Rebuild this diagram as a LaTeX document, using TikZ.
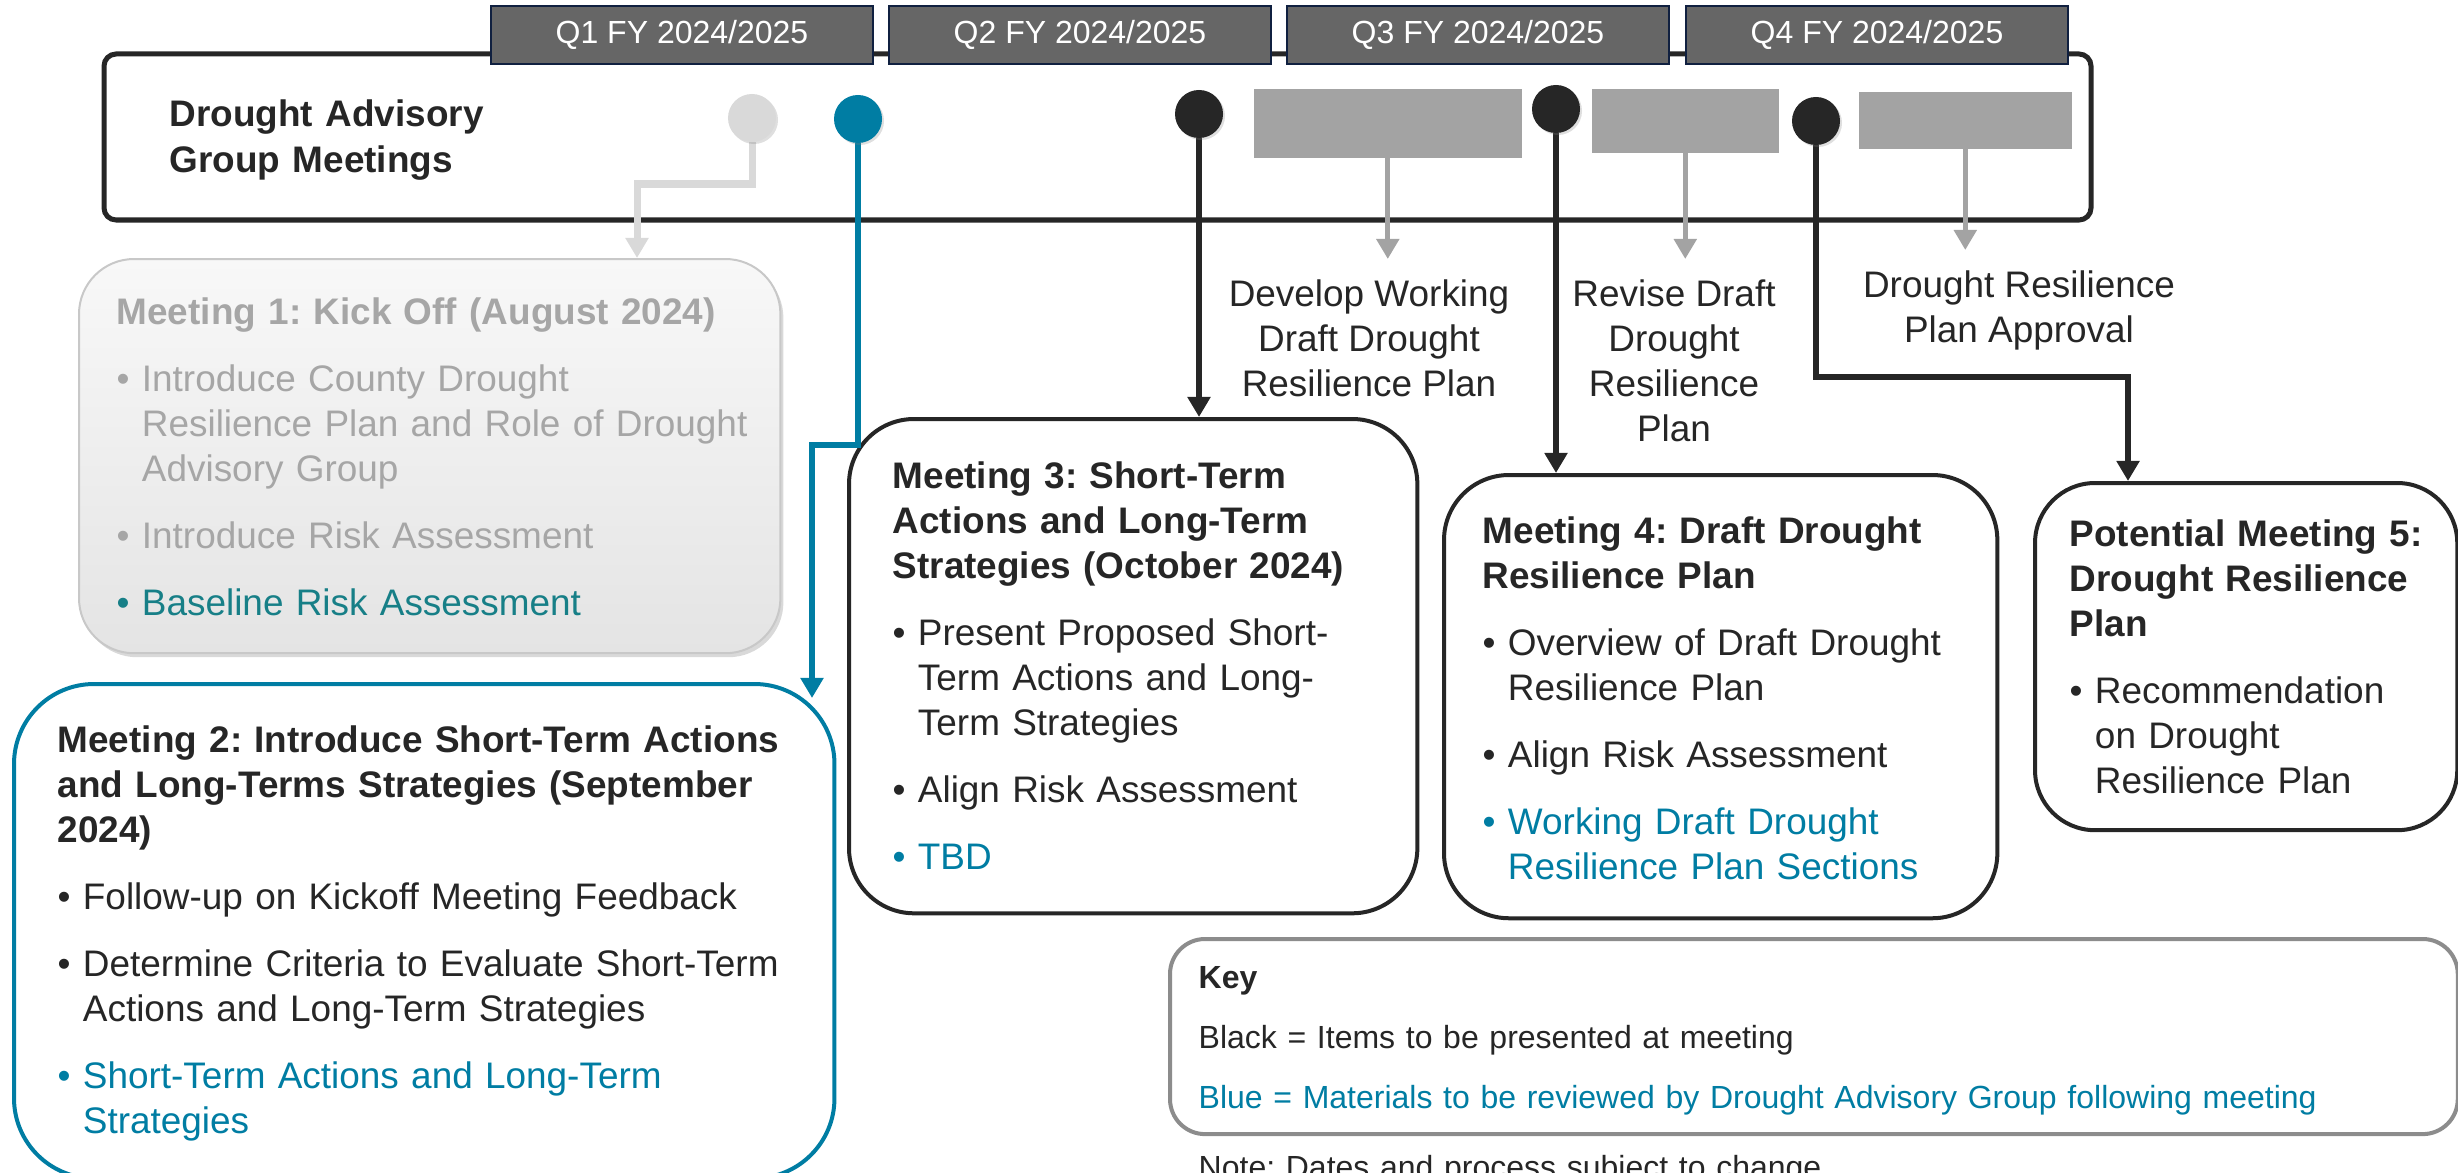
\documentclass[tikz,border=0pt]{standalone}
\usepackage{fontspec}
\setmainfont{Liberation Sans}
\usepackage{tikz}
\usetikzlibrary{arrows.meta,shapes,shadows}
\frenchspacing

\definecolor{dagblue}{RGB}{0,125,163}
\definecolor{pastteal}{RGB}{23,127,135}
\definecolor{pasttext}{RGB}{166,166,166}
\definecolor{pastline}{RGB}{200,200,200}
\definecolor{pasttop}{RGB}{248,248,248}
\definecolor{pastbottom}{RGB}{228,228,228}
\definecolor{textblack}{RGB}{38,38,38}
\definecolor{quarterfill}{RGB}{102,102,102}
\definecolor{quarterline}{RGB}{16,32,64}
\definecolor{holdergray}{RGB}{163,163,163}
\definecolor{lightdot}{RGB}{217,217,217}
\definecolor{keyline}{RGB}{140,140,140}

\newlength{\bulletwd}
\newcommand{\mitem}[2][.]{\par\vspace{.22cm}\settowidth{\bulletwd}{\textbullet\ }%
	\hangindent=\bulletwd\hangafter=1\noindent{\color{#1}\textbullet\ #2}\par}

\tikzset{>={Triangle[length=.2cm,width=.22cm]}}
\tikzstyle{quarter}=[draw=quarterline,line width=.02cm,fill=quarterfill,text=white,
minimum width=3.82cm,minimum height=.58cm,inner sep=0pt,font=\fontsize{9.1}{11}\selectfont]
\tikzstyle{meetdot}=[circle,minimum size=.48cm,inner sep=0pt,
drop shadow={shadow xshift=.02cm,shadow yshift=-.02cm,opacity=.25}]
\tikzstyle{holder}=[fill=holdergray,inner sep=0pt,anchor=north west]
\tikzstyle{meetbox}=[rectangle,rounded corners=.65cm,line width=.04cm,draw=textblack,
fill=white,inner sep=0pt,anchor=north west]
\tikzstyle{pastbox}=[rectangle,rounded corners=.55cm,line width=.02cm,draw=pastline,
top color=pasttop,bottom color=pastbottom,inner sep=0pt,anchor=north west,
drop shadow={shadow xshift=.03cm,shadow yshift=-.04cm,opacity=.3}]
\tikzstyle{meettext}=[text width=7.8cm,align=left,inner sep=0pt,anchor=base west]
\tikzstyle{steplabel}=[align=center,anchor=north,inner sep=.2cm]
\tikzstyle{arrow}=[->,line width=.06cm,draw=textblack]
\tikzstyle{bluearrow}=[->,line width=.06cm,draw=dagblue]
\tikzstyle{grayarrow}=[->,line width=.05cm,draw=holdergray]
\tikzstyle{grayelbow}=[->,line width=.07cm,draw=lightdot]

\begin{document}
\begin{tikzpicture}[x=.01cm, y=-.01cm, font=\fontsize{10.5}{12.8}\selectfont, text=textblack]
	\useasboundingbox (0,0) rectangle (2458,1173);

	%timeline frame
	\draw[line width=.05cm,draw=textblack,rounded corners=.12cm] (104,54) rectangle (2091,220);
	\node[quarter] (q1) at (682,35) {Q1 FY 2024/2025};
	\node[quarter] (q2) at (1080,35) {Q2 FY 2024/2025};
	\node[quarter] (q3) at (1478,35) {Q3 FY 2024/2025};
	\node[quarter] (q4) at (1877,35) {Q4 FY 2024/2025};

	\node[meettext,font=\fontsize{10.5}{12.8}\bfseries] (dag) at (169,127) {Drought Advisory\\Group Meetings};

	\node[holder,minimum width=2.68cm,minimum height=.69cm] (r1) at (1253,88) {};
	\node[holder,minimum width=1.87cm,minimum height=.64cm] (r2) at (1591,88) {};
	\node[holder,minimum width=2.13cm,minimum height=.57cm] (r3) at (1858,91) {};

	%meeting boxes
	\node[pastbox,minimum width=7.01cm,minimum height=3.94cm] (m1) at (78,258) {};
	\node[meetbox,draw=dagblue,rounded corners=.8cm,minimum width=8.2cm,minimum height=4.94cm] (m2) at (12,682) {};
	\node[meetbox,minimum width=5.68cm,minimum height=4.94cm] (m3) at (847,417) {};
	\node[meetbox,minimum width=5.53cm,minimum height=4.43cm] (m4) at (1442,473) {};
	\node[meetbox,rounded corners=.6cm,minimum width=4.22cm,minimum height=3.47cm] (m5) at (2033,481) {};
	\node[meetbox,draw=keyline,rounded corners=.35cm,minimum width=12.87cm,minimum height=1.95cm] (key) at (1168,937) {};

	\node[meettext,text=pasttext] (t1) at (116,324) {\textbf{Meeting 1: Kick Off (August 2024)}
		\mitem{Introduce County Drought\newline Resilience Plan and Role of Drought\newline Advisory Group}
		\mitem{Introduce Risk Assessment}
		\mitem[pastteal]{Baseline Risk Assessment}};
	\node[meettext] (t2) at (57,752) {\textbf{Meeting 2: Introduce Short-Term Actions\newline and Long-Terms Strategies (September\newline 2024)}
		\mitem{Follow-up on Kickoff Meeting Feedback}
		\mitem{Determine Criteria to Evaluate Short-Term\newline Actions and Long-Term Strategies}
		\mitem[dagblue]{Short-Term Actions and Long-Term\newline Strategies}};
	\node[meettext] (t3) at (892,488) {\textbf{Meeting 3: Short-Term\newline Actions and Long-Term\newline Strategies (October 2024)}
		\mitem{Present Proposed Short-\newline Term Actions and Long-\newline Term Strategies}
		\mitem{Align Risk Assessment}
		\mitem[dagblue]{TBD}};
	\node[meettext] (t4) at (1482,543) {\textbf{Meeting 4: Draft Drought\newline Resilience Plan}
		\mitem{Overview of Draft Drought\newline Resilience Plan}
		\mitem{Align Risk Assessment}
		\mitem[dagblue]{Working Draft Drought\newline Resilience Plan Sections}};
	\node[meettext] (t5) at (2069,546) {\textbf{Potential Meeting 5:\newline Drought Resilience\newline Plan}
		\mitem{Recommendation\newline on Drought\newline Resilience Plan}};

	\node[meettext,text width=12cm,font=\fontsize{9.1}{17.07}\selectfont] (keytext) at (1198,988) {\textbf{Key}\par
		Black = Items to be presented at meeting\par
		{\color{dagblue}Blue = Materials to be reviewed by Drought Advisory Group following meeting}};
	\node[meettext,font=\fontsize{9.1}{11}\selectfont] (note) at (1198,1178) {Note: Dates and process subject to change};

	%step labels
	\node[steplabel] (l1) at (1369,259) {Develop Working\\Draft Drought\\Resilience Plan};
	\node[steplabel] (l2) at (1674,259) {Revise Draft\\Drought\\Resilience\\Plan};
	\node[steplabel] (l3) at (2019,250) {Drought Resilience\\Plan Approval};

	%connectors
	\coordinate (g1) at (637,184);
	\coordinate (b1) at (812,445);
	\coordinate (b2) at (812,698);
	\coordinate (e1) at (2128,377);
	\draw[grayelbow] (752,142) |- (g1) -- (g1 |- m1.north);
	\draw[bluearrow] (858,143) |- (b1) -- (b2);
	\draw[arrow] (1199,138) -- (1199,138 |- m3.north);
	\draw[arrow] (1556,133) -- (1556,133 |- m4.north);
	\draw[arrow] (1816,145) |- (e1) -- (e1 |- m5.north);
	\draw[grayarrow] (r1.south) -- (r1.south |- l1.north);
	\draw[grayarrow] (r2.south) -- (r2.south |- l2.north);
	\draw[grayarrow] (r3.south) -- (r3.south |- l3.north);

	%meeting dots
	\node[meetdot,fill=lightdot] (d1) at (752,118) {};
	\node[meetdot,fill=dagblue] (d2) at (858,119) {};
	\node[meetdot,fill=textblack] (d3) at (1199,114) {};
	\node[meetdot,fill=textblack] (d4) at (1556,109) {};
	\node[meetdot,fill=textblack] (d5) at (1816,121) {};
\end{tikzpicture}
\end{document}
